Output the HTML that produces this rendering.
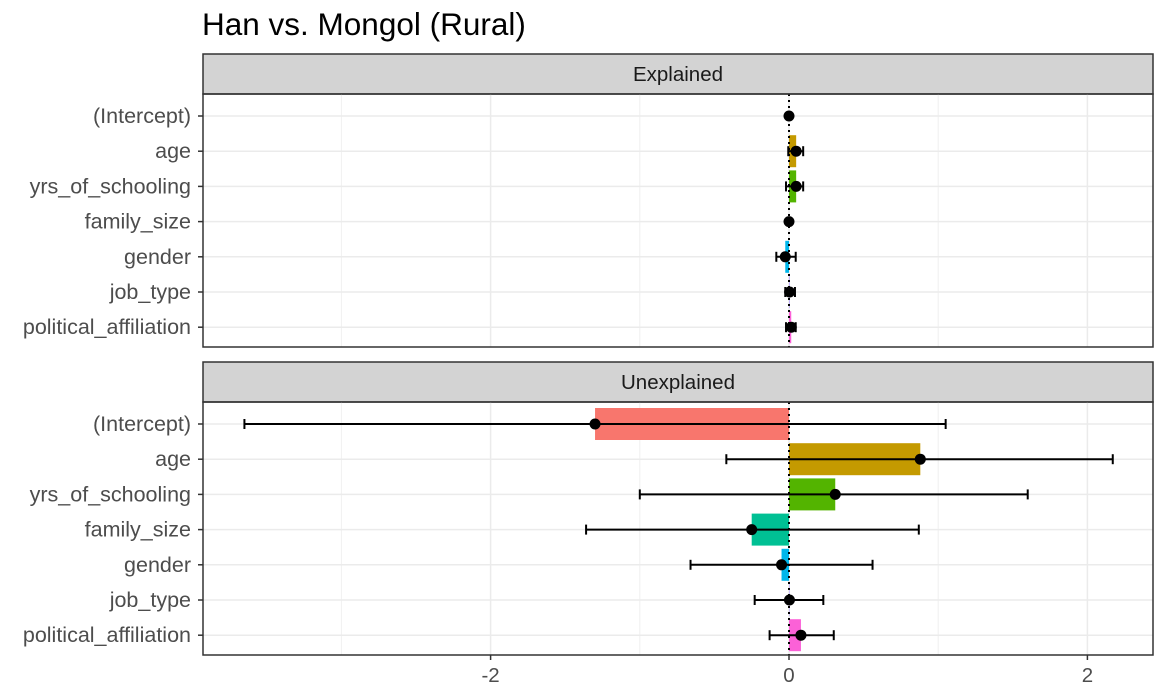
<!DOCTYPE html>
<html><head><meta charset="utf-8"><style>
body{margin:0;background:#fff;}
svg{display:block;font-family:"Liberation Sans",Arial,sans-serif;}
</style></head><body>
<svg id="chart" width="1161" height="690">
<text x="202" y="35" font-size="31.5" fill="#000">Han vs. Mongol (Rural)</text>
</svg>
<script>
const categories=["(Intercept)","age","yrs_of_schooling","family_size","gender","job_type","political_affiliation"];
const colors=["#F8766D","#C49A00","#53B400","#00C094","#00B6EB","#A58AFF","#FB61D7"];
const panels=["Explained","Unexplained"];
const explainedValues=[0,0.048,0.048,0,-0.025,0.004,0.015];
const explainedLow=[0,-0.005,-0.02,0,-0.085,-0.025,-0.02];
const explainedHigh=[0,0.095,0.095,0,0.045,0.04,0.045];
const unexplainedValues=[-1.30,0.88,0.31,-0.25,-0.05,0.003,0.08];
const unexplainedLow=[-3.65,-0.42,-1.0,-1.36,-0.66,-0.23,-0.13];
const unexplainedHigh=[1.05,2.17,1.60,0.87,0.56,0.23,0.30];
const xTicks=[-2,0,2];
const xMinor=[-3,-1,1];
const values=[explainedValues,unexplainedValues],lows=[explainedLow,unexplainedLow],highs=[explainedHigh,unexplainedHigh];

const svg=document.getElementById('chart');
const NS='http://www.w3.org/2000/svg';
const L=203,R=1153;
const xs=v=>789+v*149.2;
const panelTops=[94,402],H=253,stripH=40;
function mk(tag,at,parent){const e=document.createElementNS(NS,tag);for(const k in at)e.setAttribute(k,at[k]);(parent||svg).appendChild(e);return e;}
panels.forEach((p,pi)=>{
  const top=panelTops[pi];
  const g=mk('g',{});
  
  
  const strip=mk('rect',{x:L,y:top-stripH,width:R-L,height:stripH,fill:'#d3d3d3',stroke:'#333','stroke-width':1.5},g);
  
  
  const st=mk('text',{x:(L+R)/2,y:top-stripH/2+7,'text-anchor':'middle','font-size':20.5,fill:'#1a1a1a'},g);
  st.textContent=p;
  
  
  const ys=i=>top+22+i*35.2;
  xMinor.forEach(v=>mk('line',{x1:xs(v),x2:xs(v),y1:top,y2:top+H,stroke:'#f0f0f0','stroke-width':1},g));
  xTicks.forEach(v=>mk('line',{x1:xs(v),x2:xs(v),y1:top,y2:top+H,stroke:'#ebebeb','stroke-width':1.5},g));
  categories.forEach((c,i)=>{
    mk('line',{x1:L,x2:R,y1:ys(i),y2:ys(i),stroke:'#ebebeb','stroke-width':1.5},g);
    const t=mk('text',{x:L-12,y:ys(i)+7,'text-anchor':'end','font-size':21.5,fill:'#4d4d4d'},g);
    t.textContent=c;
    
    
    mk('line',{x1:L-5,x2:L,y1:ys(i),y2:ys(i),stroke:'#333','stroke-width':1.5},g);
  });
  categories.forEach((c,i)=>{
    const v=values[pi][i],x0=xs(0),x1=xs(v);
    const b=mk('rect',{x:Math.min(x0,x1),y:ys(i)-16,width:Math.abs(x1-x0),height:32,fill:colors[i]},g);
    
    
  });
  mk('line',{x1:xs(0),x2:xs(0),y1:top,y2:top+H,stroke:'#000','stroke-width':2,'stroke-dasharray':'2,4'},g);
  categories.forEach((c,i)=>{
    const y=ys(i),lo=xs(lows[pi][i]),hi=xs(highs[pi][i]);
    if(hi-lo>0.5){
      mk('line',{x1:lo,x2:hi,y1:y,y2:y,stroke:'#000','stroke-width':2},g);
      mk('line',{x1:lo,x2:lo,y1:y-5,y2:y+5,stroke:'#000','stroke-width':2},g);
      mk('line',{x1:hi,x2:hi,y1:y-5,y2:y+5,stroke:'#000','stroke-width':2},g);
    }
    const pt=mk('circle',{cx:xs(values[pi][i]),cy:y,r:5.5,fill:'#000'},g);
    
    
  });
  mk('rect',{x:L,y:top,width:R-L,height:H,fill:'none',stroke:'#333','stroke-width':1.5},g);
});
xTicks.forEach(v=>{
  mk('line',{x1:xs(v),x2:xs(v),y1:655,y2:660,stroke:'#333','stroke-width':1.5});
  const t=mk('text',{x:xs(v),y:682,'text-anchor':'middle','font-size':20.5,fill:'#4d4d4d'});
  t.textContent=v<0?'-'+Math.abs(v):String(v);
  
  
});
</script>
</body></html>
